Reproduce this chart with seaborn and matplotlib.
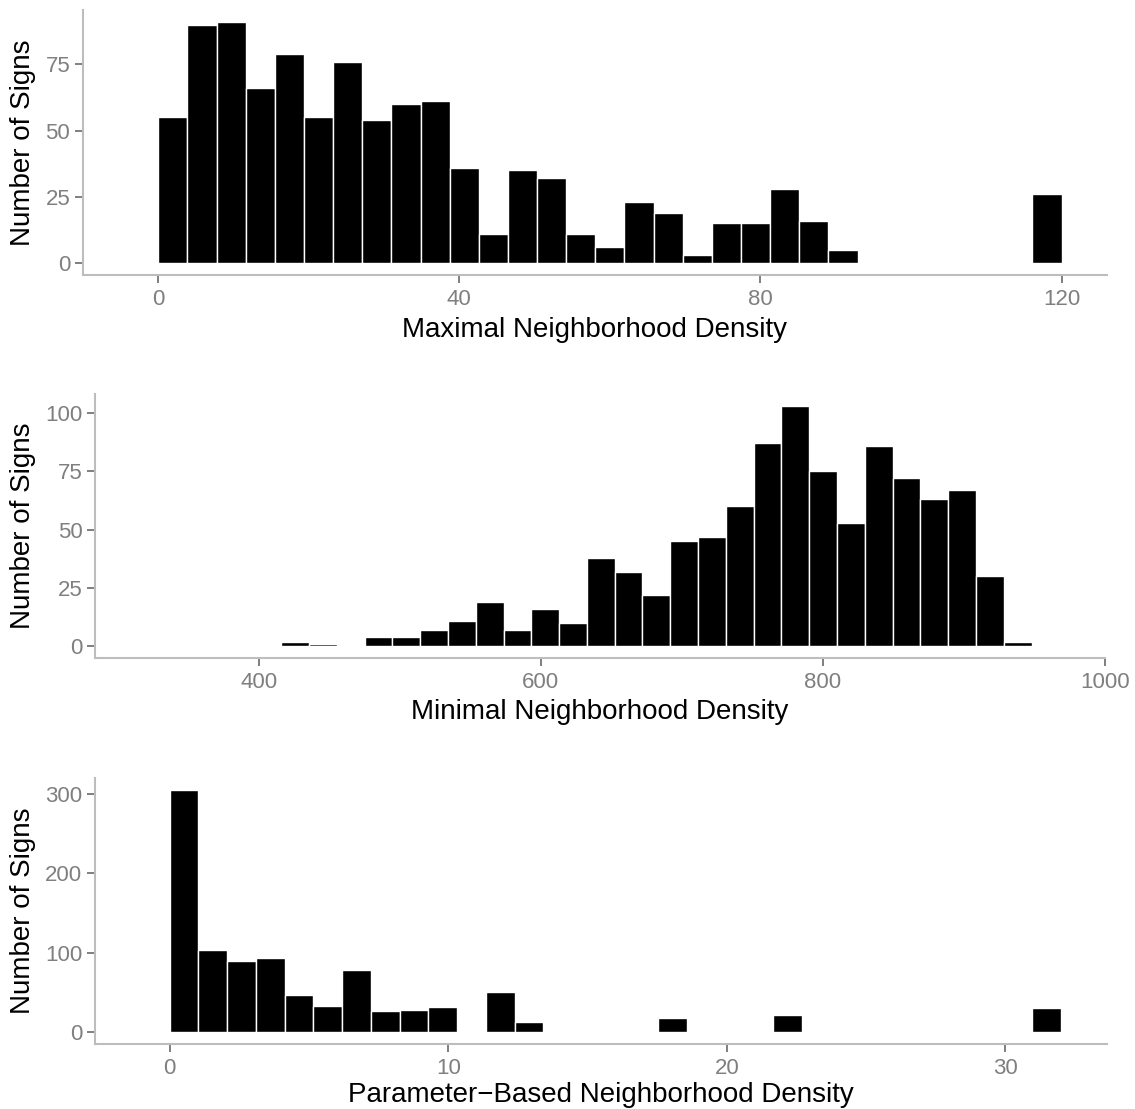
import numpy as np
import pandas as pd
import matplotlib
matplotlib.use("Agg")
import matplotlib.pyplot as plt
import seaborn as sns

# ---- data (bin counts) ----
max_edges = list(np.linspace(0, 120, 32))
max_counts = [55, 90, 91, 66, 79, 55, 76, 54, 60, 61, 36, 11, 35, 32, 11, 6,
              23, 19, 3, 15, 15, 28, 16, 5, 0, 0, 0, 0, 0, 0, 26]

min_edges = list(416 + 19.7 * np.arange(28))
min_counts = [2, 1, 0, 4, 4, 7, 11, 19, 7, 16, 10, 38, 32, 22, 45, 47, 60,
              87, 103, 75, 53, 86, 72, 63, 67, 30, 2]

par_edges = list(np.linspace(0, 32, 32))
par_counts = [305, 103, 90, 93, 46, 33, 78, 26, 28, 31, 0, 50, 12, 0, 0, 0, 0,
              17, 0, 0, 0, 21, 0, 0, 0, 0, 0, 0, 0, 0, 30]

x_titles = ["Maximal Neighborhood Density", "Minimal Neighborhood Density",
            "Parameter\u2212Based Neighborhood Density"]
y_title = "Number of Signs"
x_ticks = [[0, 40, 80, 120], [400, 600, 800, 1000], [0, 10, 20, 30]]
y_ticks = [[0, 25, 50, 75], [0, 25, 50, 75, 100], [0, 100, 200, 300]]

sns.set_style("white")
plt.rcParams['font.family'] = ['Liberation Sans', 'DejaVu Sans']

W, H = 1135, 1109
fig = plt.figure(figsize=(W / 100, H / 100), dpi=100)

# pixel boxes: left, right, top, bottom
boxes = [(82.7, 1106.7, 10, 275), (95, 1105, 394, 658.3), (95, 1107, 778, 1044)]
xlims = [(-10.04, 126.0), (284, 1000), (-2.68, 33.65)]
ylims = [(-4.55, 95.55), (-5.15, 108.15), (-15.25, 320.25)]
xlab_y = [330, 712, 1095]
ylab_x = 23

datasets = [(max_edges, max_counts), (min_edges, min_counts), (par_edges, par_counts)]

axis_col = "#bdbdbd"
tick_col = "#7f7f7f"

for i, ((edges, counts), (l, r, t, b)) in enumerate(zip(datasets, boxes)):
    ax = fig.add_axes([l / W, (H - b) / H, (r - l) / W, (b - t) / H])
    e = np.asarray(edges)
    df = pd.DataFrame({"value": (e[:-1] + e[1:]) / 2, "count": counts})
    sns.histplot(data=df, x="value", weights="count", bins=edges, ax=ax,
                 color="black", edgecolor="white", linewidth=1.0, alpha=1)
    ax.set_xlim(*xlims[i])
    ax.set_ylim(*ylims[i])
    ax.set_xticks(x_ticks[i])
    ax.set_yticks(y_ticks[i])
    for s in ["top", "right"]:
        ax.spines[s].set_visible(False)
    for s in ["left", "bottom"]:
        ax.spines[s].set_color(axis_col)
        ax.spines[s].set_linewidth(1.5)
    ax.tick_params(axis="both", bottom=True, left=True, colors=tick_col,
                   labelcolor=tick_col, length=6, width=1.4, labelsize=16,
                   pad=3, direction="out")
    ax.tick_params(axis="x", pad=4)
    ax.set_xlabel(x_titles[i], fontsize=20, color="black")
    ax.set_ylabel(y_title, fontsize=20, color="black")
    ax.xaxis.label.set_verticalalignment("center")
    ax.yaxis.label.set_verticalalignment("center")
    ax.xaxis.set_label_coords(0.5, (b - xlab_y[i]) / (b - t))
    ax.yaxis.set_label_coords((ylab_x - l) / (r - l), 0.5)
    ax.grid(False)

fig.savefig("out.png", dpi=100, facecolor="white")
